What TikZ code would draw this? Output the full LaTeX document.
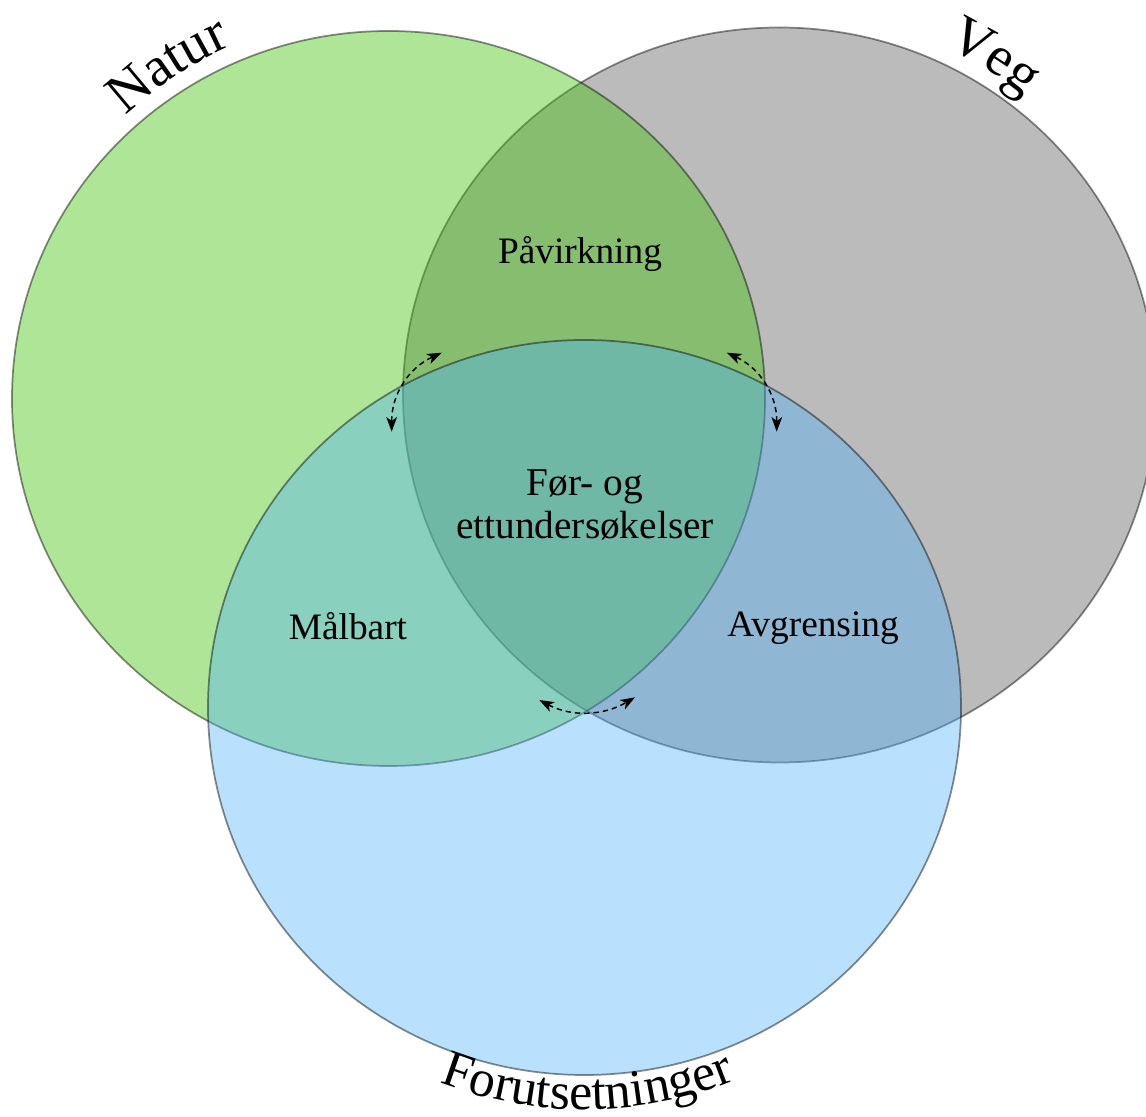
\documentclass[tikz,border=0pt]{standalone}
\usepackage{fontspec}
\setmainfont{Liberation Serif}
\usetikzlibrary{arrows.meta,decorations.text}
\definecolor{natgreen}{RGB}{62,193,7}
\definecolor{veggray}{RGB}{119,119,119}
\definecolor{forblue}{RGB}{80,177,250}
\newcommand\lblbig{\fontsize{42}{42}\selectfont}
\newcommand\lblfor{\fontsize{39}{39}\selectfont}
\begin{document}
\begin{tikzpicture}[x=0.75pt,y=0.75pt,
  venn/.style={draw=black, draw opacity=0.45, line width=1.3pt},
  lbl/.style={font=\fontsize{28}{32}\selectfont, align=center, inner sep=0pt},
  twoway/.style={line width=1.1pt, dash pattern=on 4pt off 3pt,
    {Stealth[length=11pt,width=8pt,inset=3pt]}-{Stealth[length=11pt,width=8pt,inset=3pt]}}
]
\useasboundingbox (0,0) rectangle (1146,1117);
\clip (0,0) rectangle (1146,1117);
\coordinate (cg) at (388.5,718.5);
\coordinate (cv) at (779.5,722);
\coordinate (cb) at (584.5,409.5);
% circles
\path[venn, fill=veggray, fill opacity=0.5] (cv) ellipse [x radius=376.5, y radius=367.5];
\path[venn, fill=natgreen, fill opacity=0.42] (cg) ellipse [x radius=376.5, y radius=367.5];
\path[venn, fill=forblue, fill opacity=0.4] (cb) ellipse [x radius=376.5, y radius=367.5];
% region labels
\node[lbl] (pav) at (580,863) {Påvirkning};
\node[lbl, font=\fontsize{29.5}{32.5}\selectfont] (for) at (585,612) {Før- og\\ettundersøkelser};
\node[lbl] (mal) at (348,491) {Målbart};
\node[lbl] (avg) at (813,488.5) {Avgrensing};
% arrows
\coordinate (la) at (391.7,685.3);
\coordinate (lb) at (441.7,764.3);
\coordinate (ra) at (776.7,685.3);
\coordinate (rb) at (726.7,764.3);
\coordinate (ba) at (539.3,417);
\coordinate (bb) at (635,419.7);
\draw[twoway] (la) .. controls (391.5,722.3) and (408.1,748.7) .. (lb);
\draw[twoway] (ra) .. controls (776.9,722.3) and (760.3,748.7) .. (rb);
\draw[twoway] (ba) .. controls (571.2,400) and (603.1,401) .. (bb);
% set titles along the circles
\path[decorate, decoration={text along path, text align=center, text={|\lblbig|Natur}}]
  (cg) ++(144:386) arc[start angle=144, end angle=103, radius=386];
\path[decorate, decoration={text along path, text align=center, text={|\lblbig|Veg}}]
  (cv) ++(77.5:386) arc[start angle=77.5, end angle=37.5, radius=386];
\path[decorate, decoration={text along path, text align=center, text={|\lblfor|Forutsetninger}}]
  (cb) ++(-117:402) arc[start angle=-117, end angle=-62, radius=402];
\end{tikzpicture}
\end{document}
